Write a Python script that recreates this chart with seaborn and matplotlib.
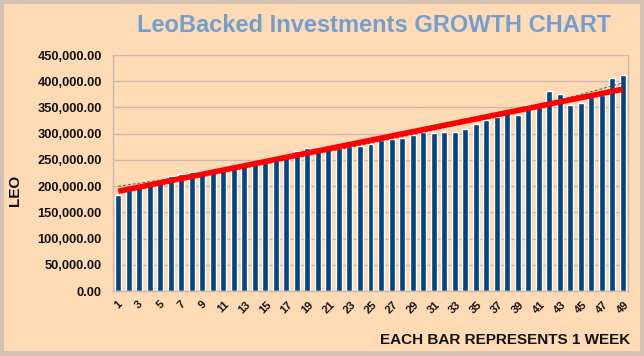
import numpy as np
import pandas as pd
import matplotlib
matplotlib.use("Agg")
import matplotlib.pyplot as plt
import seaborn as sns
from matplotlib.ticker import FuncFormatter, MultipleLocator, FixedLocator
from matplotlib.patches import Rectangle
from matplotlib import font_manager

weeks = list(range(1, 50))
leo = [184000, 194000, 198000, 205000, 208000, 220000, 224000, 226000, 227000, 230000,
       233000, 235000, 240000, 242000, 247000, 251000, 258000, 267000, 273000, 267000,
       270000, 273000, 277000, 277000, 280000, 287000, 290000, 292000, 297000, 303000,
       301000, 303000, 304000, 309000, 318000, 326000, 332000, 339000, 336000, 355000,
       355000, 382000, 376000, 354000, 358000, 369000, 374000, 406000, 412000]
tick_labels = [str(w) if w % 2 == 1 else "" for w in weeks]

title = "LeoBacked Investments GROWTH CHART"
ylabel = "LEO"
xlabel = "EACH BAR REPRESENTS 1 WEEK"

sns.set_theme(style="white")
names = {f.name for f in font_manager.fontManager.ttflist}
narrow = "Liberation Sans Narrow" if "Liberation Sans Narrow" in names else "Liberation Sans"
plt.rcParams["font.family"] = ["Liberation Sans", "DejaVu Sans"]

peach = "#ffdbb5"
frame = "#d6c2b2"
bar_col = "#004586"
grid_col = "#c9b9a6"

fig = plt.figure(figsize=(6.44, 3.56), dpi=100, facecolor=frame)
fig.patches.append(Rectangle((4/644, 5/356), 636/644, 347/356, transform=fig.transFigure,
                             facecolor=peach, edgecolor="none", zorder=-10))
ax = fig.add_axes([113/644, 1 - 291/356, (628 - 113)/644, (291 - 55)/356])
ax.set_facecolor(peach)

df = pd.DataFrame({"week": weeks, "leo": leo})
x = np.arange(len(weeks))
sns.barplot(data=df, x="week", y="leo", color=bar_col, saturation=1, width=0.57,
            ax=ax, zorder=2, order=weeks)

# trend lines computed from the data
b1, b0 = np.polyfit(x, np.array(leo, float), 1)
ax.plot([x[0], x[-1]], [b0 + b1 * x[0], b0 + b1 * x[-1]], color="#ff0000", lw=4,
        solid_capstyle="butt", zorder=4)
eb, ea = np.polyfit(x, np.log(np.array(leo, float)), 1)
ax.plot(x, np.exp(ea + eb * x), color="#555555", lw=0.7, ls=(0, (3, 2)), zorder=3)

ax.set_ylim(0, 450000)
ax.set_xlim(-0.5, len(weeks) - 0.5)
ax.yaxis.set_major_locator(MultipleLocator(50000))
ax.yaxis.set_major_formatter(FuncFormatter(lambda v, p: f"{v:,.2f}"))
ax.grid(axis="y", color=grid_col, lw=1, zorder=0)
ax.set_axisbelow(True)

ax.set_xticks(x)
ax.set_xticklabels(tick_labels, rotation=45, ha="center", va="top",
                   fontsize=8, fontweight="bold", color="#111111")
ax.xaxis.set_minor_locator(FixedLocator(np.arange(-0.5, len(weeks), 1)))
ax.tick_params(axis="x", which="major", length=0, pad=6)
ax.tick_params(axis="x", which="minor", length=4, color=grid_col, width=1)
ax.tick_params(axis="y", length=5, color=grid_col, width=1, pad=3,
               labelsize=9.3, labelcolor="#111111")
for lab in ax.get_yticklabels():
    lab.set_fontweight("bold")

for s in ["left", "bottom", "right", "top"]:
    ax.spines[s].set_color(grid_col)
    ax.spines[s].set_linewidth(1)
ax.spines["top"].set_visible(False)

ax.set_xlabel("")
ax.set_ylabel("")
fig.text(15/644, 1 - 190/356, ylabel, rotation=90, ha="center", va="center",
         fontsize=11, fontweight="bold", color="#111111")
fig.text(630/644, 1 - 340/356, xlabel, ha="right", va="center",
         fontsize=11, fontweight="bold", color="#111111")
fig.text(374/644, 1 - 25/356, title, ha="center", va="center",
         fontsize=17, fontweight="bold", color="#729fcf", family=[narrow, "DejaVu Sans"])

fig.savefig("out.png", dpi=100, facecolor=fig.get_facecolor())
